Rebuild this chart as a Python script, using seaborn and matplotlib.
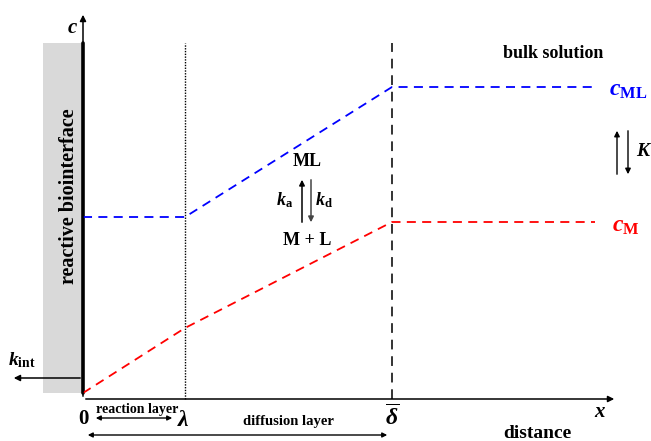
import numpy as np
import pandas as pd
import seaborn as sns
import matplotlib.pyplot as plt
from matplotlib.patches import Rectangle

sns.set_style('white')
plt.rcParams['font.family'] = ['Liberation Serif', 'DejaVu Serif']
plt.rcParams['font.weight'] = 'bold'
plt.rcParams['text.color'] = 'black'
plt.rcParams['mathtext.fontset'] = 'custom'
plt.rcParams['mathtext.rm'] = 'Liberation Serif:bold'
plt.rcParams['mathtext.it'] = 'Liberation Serif:italic:bold'
plt.rcParams['mathtext.bf'] = 'Liberation Serif:bold'

# concentration profiles (distance in arbitrary units, origin at the interface)
lam = 1.02
delta = 3.09
x_ml = [0, lam, delta, 5.15]
c_ml = [1.82, 1.82, 3.12, 3.12]
x_m = [0, lam, delta, 5.12]
c_m = [0.06, 0.71, 1.77, 1.77]

prof = pd.DataFrame({
    'distance': x_ml + x_m,
    'c': c_ml + c_m,
    'species': ['ML'] * 4 + ['M'] * 4,
})

fig = plt.figure(figsize=(6.51, 4.41), dpi=100)
ax = fig.add_axes([0, 0, 1, 1])
ax.set_xlim(-0.83, 5.68)
ax.set_ylim(-0.42, 3.99)
ax.axis('off')

# interface
ax.add_patch(Rectangle((-0.40, 0.06), 0.40, 3.50, facecolor='#d9d9d9', edgecolor='none'))
ax.plot([0, 0], [0.06, 3.56], color='k', lw=2.6)
ax.text(-0.14, 2.03, 'reactive biointerface', rotation=90, ha='center', va='center',
        fontsize=14.5, fontweight='bold')

sns.lineplot(data=prof, x='distance', y='c', hue='species', sort=False,
             palette={'ML': 'blue', 'M': 'red'}, legend=False, ax=ax, lw=1.3,
             estimator=None)
for ln in ax.lines[1:]:
    ln.set_dashes((5, 3.5))

# layer boundaries
ax.plot([lam, lam], [0, 3.56], color='k', lw=1, ls=(0, (1, 1)))
ax.plot([delta, delta], [0, 3.56], color='#333333', lw=1.4, dashes=(5, 3.5))

arrow = dict(arrowstyle='-|>', color='k', lw=1.1, mutation_scale=9)
ax.annotate('', xy=(5.34, 0), xytext=(0, 0), arrowprops=arrow)
ax.annotate('', xy=(0, 3.87), xytext=(0, 0), arrowprops=arrow)
ax.annotate('', xy=(-0.72, 0.21), xytext=(0, 0.21), arrowprops=arrow)

ax.text(-0.11, 3.71, '$c$', fontsize=15, ha='center', va='center')
ax.text(-0.61, 0.39, '$k_{\\mathrm{int}}$', fontsize=14, ha='center', va='center')

# axis labels
ax.text(0, -0.20, '0', fontsize=15, ha='center', va='center')
ax.text(lam - 0.02, -0.21, '$\\lambda$', fontsize=17, ha='center', va='center')
ax.text(delta, -0.19, '$\\overline{\\delta}$', fontsize=17, ha='center', va='center')
ax.text(5.17, -0.13, '$x$', fontsize=15, ha='center', va='center')
ax.text(4.54, -0.34, 'distance', fontsize=14, ha='center', va='center')

dbl = dict(arrowstyle='<|-|>', color='k', lw=1.0, mutation_scale=7)
ax.text(0.54, -0.10, 'reaction layer', fontsize=10, ha='center', va='center')
ax.annotate('', xy=(0.10, -0.19), xytext=(0.92, -0.19), arrowprops=dbl)
ax.text(2.05, -0.23, 'diffusion layer', fontsize=10.5, ha='center', va='center')
ax.annotate('', xy=(0.02, -0.36), xytext=(3.07, -0.36), arrowprops=dbl)

# reaction scheme
ax.text(2.24, 2.37, 'ML', fontsize=13, ha='center', va='center')
ax.text(2.24, 1.59, 'M + L', fontsize=13, ha='center', va='center')
ax.annotate('', xy=(2.19, 2.22), xytext=(2.19, 1.74),
            arrowprops=dict(arrowstyle='-|>', color='k', lw=1.1, mutation_scale=8))
ax.annotate('', xy=(2.28, 1.74), xytext=(2.28, 2.22),
            arrowprops=dict(arrowstyle='-|>', color='#444444', lw=1.1, mutation_scale=8))
ax.text(2.02, 1.99, '$k_{\\mathrm{a}}$', fontsize=13, ha='center', va='center')
ax.text(2.41, 1.99, '$k_{\\mathrm{d}}$', fontsize=13, ha='center', va='center')

# bulk
ax.text(4.70, 3.46, 'bulk solution', fontsize=13, ha='center', va='center')
ax.text(5.45, 3.09, '$c_{\\mathrm{ML}}$', fontsize=17, color='blue', ha='center', va='center')
ax.text(5.43, 1.73, '$c_{\\mathrm{M}}$', fontsize=17, color='red', ha='center', va='center')
ax.annotate('', xy=(5.34, 2.71), xytext=(5.34, 2.22),
            arrowprops=dict(arrowstyle='-|>', color='k', lw=1.0, mutation_scale=8))
ax.annotate('', xy=(5.45, 2.22), xytext=(5.45, 2.71),
            arrowprops=dict(arrowstyle='-|>', color='k', lw=1.0, mutation_scale=8))
ax.text(5.61, 2.47, '$K$', fontsize=14, ha='center', va='center')

fig.savefig('out.png', dpi=100)
